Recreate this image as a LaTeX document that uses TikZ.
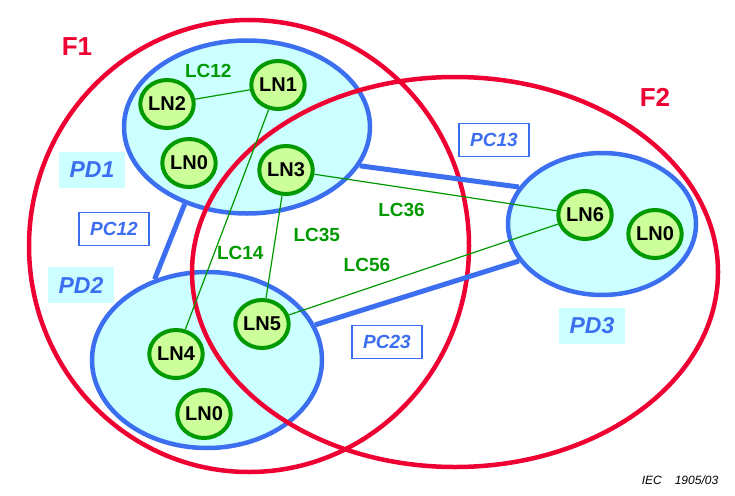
\documentclass[tikz,border=0pt]{standalone}
\usepackage{fontspec}
\setmainfont{Liberation Sans}
\usetikzlibrary{shapes.geometric}
\definecolor{zonered}{RGB}{238,0,50}
\definecolor{pdblue}{RGB}{60,110,240}
\definecolor{pdfill}{RGB}{204,255,255}
\definecolor{lnfill}{RGB}{204,255,153}
\definecolor{lngreen}{RGB}{0,153,0}

\begin{document}
\begin{tikzpicture}[x=1pt, y=-1pt,
	fzone/.style={ellipse, draw=zonered, line width=4.5pt, inner sep=0pt},
	pdzone/.style={ellipse, draw=pdblue, fill=pdfill, line width=4.5pt, inner sep=0pt},
	ln/.style={ellipse, draw=lngreen, fill=lnfill, line width=4pt, inner sep=0pt, minimum width=52pt, minimum height=48pt, font=\fontsize{20}{20}\selectfont\bfseries},
	lc/.style={lngreen, line width=1.2pt},
	lclabel/.style={inner sep=0pt, text=lngreen, font=\fontsize{19}{19}\selectfont\bfseries},
	pc/.style={pdblue, line width=5pt},
	pdname/.style={fill=pdfill, text=pdblue, minimum width=66pt, minimum height=36pt, inner sep=0pt, font=\fontsize{23}{23}\selectfont\bfseries\itshape},
	pcname/.style={draw=pdblue, line width=1.2pt, fill=white, text=pdblue, minimum width=70pt, minimum height=33pt, inner sep=0pt, font=\fontsize{19}{19}\selectfont\bfseries\itshape},
	fname/.style={text=zonered, font=\fontsize{26}{26}\selectfont\bfseries}]
	\useasboundingbox (0,0) rectangle (735,495);

	\node[pdzone, minimum width=246pt, minimum height=173pt] (PD1) at (247,127) {};
	\node[pdzone, minimum width=230pt, minimum height=176pt] (PD2) at (207,360) {};
	\node[pdzone, minimum width=188pt, minimum height=142pt] (PD3) at (602,224) {};

	\node[fzone, minimum width=440pt, minimum height=452pt] (F1) at (249,246) {};
	\node[fzone, minimum width=526pt, minimum height=390pt] (F2) at (455,272) {};

	\draw[pc] (PD1.-129) -- (PD2.123);
	\draw[pc] (PD1.-19) -- (PD3.156);
	\draw[pc] (PD2.18) -- (PD3.-156);

	\node[ln] (LN1) at (278,85) {LN1};
	\node[ln] (LN2) at (167,104) {LN2};
	\node[ln] (LN0a) at (189,163) {LN0};
	\node[ln] (LN3) at (286,170) {LN3};
	\node[ln] (LN4) at (176,354) {LN4};
	\node[ln] (LN5) at (262,324) {LN5};
	\node[ln] (LN0b) at (204,414) {LN0};
	\node[ln] (LN6) at (585,215) {LN6};
	\node[ln] (LN0c) at (655,234) {LN0};

	\draw[lc] (LN2) to node [lclabel, pos=.24, above=19pt] {LC12} (LN1);
	\draw[lc] (LN1) to node [lclabel, pos=.65, right=2pt] {LC14} (LN4);
	\draw[lc] (LN3) to node [lclabel, pos=.38, right=17pt] {LC35} (LN5);
	\draw[lc] (LN3) to node [lclabel, pos=.36, below=15pt] {LC36} (LN6);
	\draw[lc] (LN5) to node [lclabel, pos=.29, above=16pt] {LC56} (LN6);

	\node[fname] (F1name) at (77,47) {F1};
	\node[fname] (F2name) at (655,97) {F2};
	\node[pdname] (PD1name) at (92,170) {PD1};
	\node[pdname] (PD2name) at (81,285) {PD2};
	\node[pdname] (PD3name) at (592,326) {PD3};
	\node[pcname] (PC12) at (114,229) {PC12};
	\node[pcname] (PC13) at (494,140) {PC13};
	\node[pcname] (PC23) at (387,342) {PC23};
	\node[font=\fontsize{12}{12}\selectfont\itshape] (IEC) at (680,480) {IEC\hspace{13pt}1905/03};
\end{tikzpicture}
\end{document}
